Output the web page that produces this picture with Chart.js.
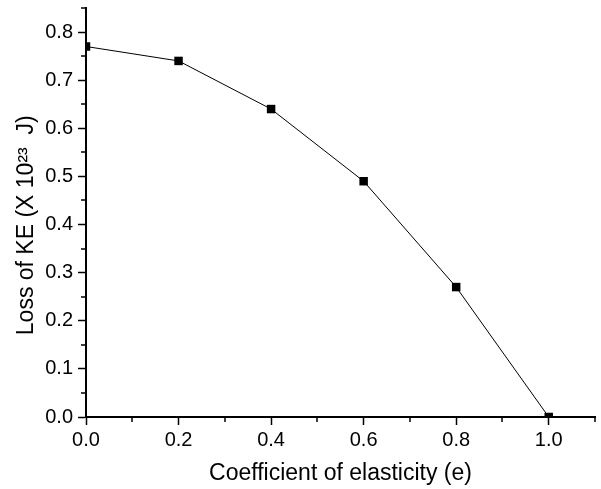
<!DOCTYPE html>
<html>
<head>
<meta charset="utf-8">
<script src="https://cdn.jsdelivr.net/npm/chart.js@4"></script>
<style>
  html, body { margin: 0; padding: 0; background: #fff; }
  #wrap { width: 601px; height: 489px; }
</style>
</head>
<body>
<div id="wrap"><canvas id="keChart" width="601" height="489"></canvas></div>
<script>
var elasticity = [0.0, 0.2, 0.4, 0.6, 0.8, 1.0];
var lossKE = [0.77, 0.74, 0.64, 0.49, 0.27, 0.0];

var xMinorTicks = [0.1, 0.3, 0.5, 0.7, 0.9, 1.1];
var yMinorTicks = [0.05, 0.15, 0.25, 0.35, 0.45, 0.55, 0.65, 0.75, 0.85];

var tickFont = { family: 'Liberation Sans, Arial, sans-serif', size: 20 };
var titleFont = { family: 'Liberation Sans, Arial, sans-serif', size: 23 };

// small ticks between the labelled ones, placed through the scales
const minorTicks = {
  id: 'minorTicks',
  afterDraw: function(chart) {
    var ctx = chart.ctx;
    var xs = chart.scales.x, ys = chart.scales.y;
    var area = chart.chartArea;
    ctx.save();
    ctx.strokeStyle = '#000';
    ctx.lineWidth = 1.5;
    ctx.beginPath();
    xMinorTicks.forEach(function(v) {
      var px = Math.round(xs.getPixelForValue(v));
      ctx.moveTo(px, area.bottom);
      ctx.lineTo(px, area.bottom + 5);
    });
    yMinorTicks.forEach(function(v) {
      var py = Math.round(ys.getPixelForValue(v));
      ctx.moveTo(area.left, py);
      ctx.lineTo(area.left - 5, py);
    });
    ctx.stroke();
    ctx.restore();
  }
};

var ctx = document.getElementById('keChart').getContext('2d');

var keChart = new Chart(ctx, {
  type: 'line',
  data: {
    datasets: [{
      data: elasticity.map(function(e, i) { return { x: e, y: lossKE[i] }; }),
      borderColor: '#000',
      borderWidth: 1,
      pointStyle: 'rect',
      pointRadius: 6,
      pointBorderWidth: 0,
      pointBackgroundColor: '#000',
      tension: 0,
      clip: 0
    }]
  },
  options: {
    responsive: false,
    animation: false,
    layout: { padding: { top: 8, right: 2, left: 0, bottom: 0 } },
    plugins: {
      legend: { display: false },
      tooltip: { enabled: false }
    },
    scales: {
      x: {
        type: 'linear',
        min: 0,
        max: 1.1,
        afterFit: function(scale) {
          scale.height = 72;
          scale.paddingLeft = 0;
          scale.paddingRight = 0;
        },
        ticks: {
          stepSize: 0.2,
          includeBounds: false,
          color: '#000',
          font: tickFont,
          padding: 3,
          maxRotation: 0,
          callback: function(v) { return v.toFixed(1); }
        },
        grid: { drawOnChartArea: false, drawTicks: true, tickLength: 8, tickColor: '#000', tickWidth: 1.5 },
        border: { display: true, color: '#000', width: 2 },
        title: {
          display: true,
          text: 'Coefficient of elasticity (e)',
          color: '#000',
          font: titleFont,
          padding: { top: 0, bottom: 2 }
        }
      },
      y: {
        min: 0,
        max: 0.85,
        afterFit: function(scale) {
          scale.width = 86;
          scale.paddingTop = 0;
          scale.paddingBottom = 0;
        },
        ticks: {
          stepSize: 0.1,
          includeBounds: false,
          color: '#000',
          font: tickFont,
          padding: 5,
          callback: function(v) { return v.toFixed(1); }
        },
        grid: { drawOnChartArea: false, drawTicks: true, tickLength: 8, tickColor: '#000', tickWidth: 1.5 },
        border: { display: true, color: '#000', width: 2 },
        title: {
          display: true,
          text: 'Loss of KE (X 10²³  J)    ',
          color: '#000',
          font: titleFont,
          padding: { top: 13, bottom: 0 }
        }
      }
    }
  },
  plugins: [minorTicks]
});
</script>
</body>
</html>
